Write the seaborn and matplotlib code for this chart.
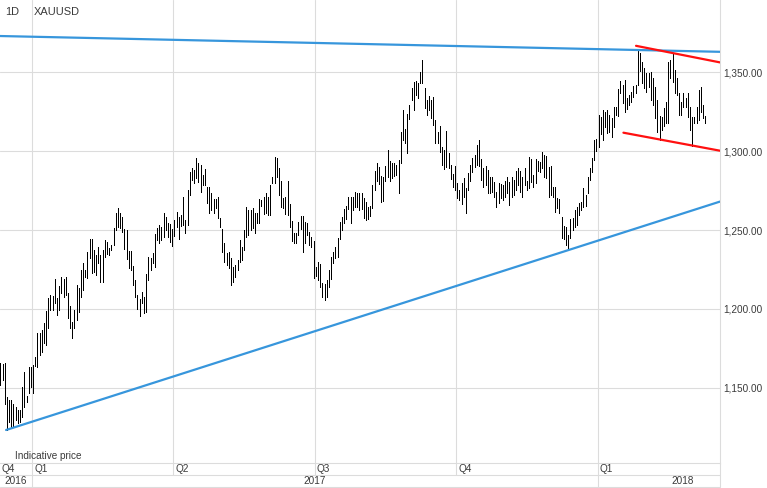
import numpy as np
import pandas as pd
import matplotlib.pyplot as plt
import seaborn as sns

# XAUUSD daily bars (high / low), one per business day starting 12 Dec 2016
start_day = '2016-12-12'
highs = [1165.6, 1165.0, 1165.6, 1144.5, 1142.4, 1142.4, 1139.9, 1137.8, 1136.1, 1136.1,
         1150.4, 1159.9, 1144.9, 1163.5, 1163.5, 1164.6, 1169.8, 1184.6, 1185.0, 1186.7,
         1190.9, 1198.7, 1207.2, 1208.9, 1208.4, 1219.0, 1206.8, 1214.6, 1220.3, 1219.0,
         1220.0, 1209.9, 1201.9, 1192.0, 1199.4, 1215.2, 1213.1, 1224.9, 1228.9, 1224.7,
         1235.9, 1244.3, 1244.3, 1237.3, 1234.2, 1239.5, 1234.2, 1237.3, 1243.7, 1242.6,
         1238.4, 1240.5, 1251.1, 1260.6, 1263.7, 1260.6,
         1258.4, 1250.4, 1250.0, 1236.7, 1236.7, 1227.2, 1218.3, 1208.9, 1206.1, 1211.0,
         1207.8, 1222.0, 1233.1, 1232.1, 1235.2, 1247.5, 1251.0, 1253.2, 1251.7, 1261.0,
         1258.0, 1254.6, 1253.8, 1250.4, 1256.3, 1261.6, 1258.0, 1259.3, 1270.7, 1256.3,
         1275.4, 1286.9, 1289.0, 1288.0, 1295.4, 1292.2, 1291.1, 1284.8, 1288.4, 1277.4,
         1277.4, 1273.2, 1269.4, 1269.4, 1271.1, 1257.4, 1250.4, 1241.6, 1235.2, 1236.3,
         1232.1, 1226.8, 1227.8, 1231.0, 1243.7, 1239.5, 1250.0, 1264.8, 1262.7, 1262.7,
         1263.7, 1260.5, 1260.5, 1269.4, 1269.0, 1271.1, 1273.6, 1271.1, 1278.7, 1283.7,
         1296.0, 1295.3, 1289.0, 1281.0, 1270.0, 1271.1, 1281.0, 1266.5, 1255.9, 1247.9,
         1247.9, 1255.3, 1258.9, 1258.9, 1255.3, 1254.6, 1249.0, 1245.8, 1243.2, 1226.8,
         1229.5, 1228.3, 1216.2, 1215.8, 1218.3, 1224.7, 1232.7, 1236.3, 1239.5, 1244.7,
         1255.3, 1258.4, 1263.1, 1265.2, 1271.1, 1270.7, 1271.1, 1274.3, 1273.6, 1273.2,
         1273.6, 1270.0, 1267.9, 1264.8, 1265.2, 1278.5, 1287.5, 1292.2, 1289.6, 1284.2,
         1283.7, 1290.5, 1300.6, 1293.7, 1292.6, 1292.2, 1291.1, 1294.3, 1312.2, 1325.9,
         1313.7, 1323.4, 1329.1, 1340.1, 1343.9, 1344.3, 1342.8, 1350.2, 1357.6, 1339.7,
         1332.3, 1334.8, 1332.3, 1334.4, 1319.6, 1312.2, 1315.8, 1302.3, 1300.6, 1312.7,
         1298.9, 1291.1, 1285.4, 1290.5, 1279.5, 1275.3, 1279.5, 1282.7, 1276.4, 1285.9,
         1291.1, 1295.3, 1297.5, 1303.8, 1307.0, 1294.7, 1289.0, 1290.5, 1288.0,
         1283.8, 1283.3, 1280.6, 1274.3, 1279.5, 1279.1, 1278.5, 1281.0, 1283.8, 1280.6,
         1283.3, 1281.6, 1287.3, 1289.0, 1287.3, 1283.8, 1289.5, 1281.2, 1296.4, 1294.7,
         1284.8, 1294.7, 1293.7, 1293.3, 1299.6, 1297.5, 1296.8, 1290.1, 1290.5, 1277.4,
         1277.0, 1270.0, 1269.4, 1258.4, 1252.5, 1252.1, 1246.8, 1256.7, 1257.4, 1262.7,
         1264.8, 1266.9, 1267.9, 1276.4, 1272.2, 1283.8, 1289.0, 1295.4, 1307.0,
         1307.4, 1322.8, 1321.3, 1326.0, 1324.9, 1326.0, 1322.8, 1320.7, 1327.6, 1328.0,
         1339.0, 1344.5, 1341.8, 1344.9, 1333.3, 1335.4, 1337.5, 1341.1, 1341.8, 1363.5,
         1362.2, 1356.5, 1352.3, 1349.6, 1349.6, 1350.2, 1346.0, 1340.7, 1332.3, 1322.1,
         1321.7, 1327.0, 1331.0, 1356.5, 1357.6, 1361.8, 1351.0, 1346.0, 1336.5, 1331.0,
         1336.5, 1333.3, 1336.5, 1328.0, 1321.7, 1321.7, 1328.0, 1338.6, 1340.7, 1329.1,
         1322.1]
lows = [1151.9, 1155.0, 1139.9, 1123.4, 1128.7, 1125.5, 1125.9, 1129.7, 1128.1, 1128.7,
        1131.9, 1138.2, 1141.4, 1146.6, 1150.9, 1146.6, 1163.9, 1163.5, 1170.9, 1173.0,
        1178.3, 1177.2, 1188.2, 1199.4, 1199.4, 1203.6, 1196.2, 1199.4, 1209.9, 1207.8,
        1208.9, 1194.1, 1187.8, 1181.4, 1188.2, 1193.0, 1198.3, 1207.8, 1212.0, 1220.5,
        1219.8, 1232.1, 1222.6, 1223.6, 1221.5, 1228.9, 1217.3, 1217.3, 1233.1, 1234.6,
        1234.2, 1237.4, 1240.5, 1250.0, 1252.1, 1251.1,
        1249.0, 1237.8, 1231.6, 1225.7, 1224.7, 1215.0, 1207.8, 1199.8, 1195.6, 1203.6,
        1197.2, 1198.3, 1218.3, 1224.7, 1228.9, 1226.8, 1243.7, 1241.6, 1243.7, 1245.8,
        1250.0, 1245.8, 1242.6, 1239.9, 1246.2, 1251.7, 1244.1, 1252.7, 1253.2, 1247.9,
        1253.2, 1272.2, 1281.7, 1279.5, 1282.7, 1280.6, 1274.3, 1278.5, 1278.5, 1266.9,
        1260.6, 1262.7, 1260.6, 1263.7, 1257.4, 1252.1, 1236.3, 1230.0, 1227.8, 1225.7,
        1215.2, 1217.3, 1220.5, 1224.7, 1230.0, 1231.0, 1237.4, 1245.8, 1246.8, 1250.0,
        1251.0, 1247.9, 1254.2, 1254.2, 1265.2, 1260.1, 1260.5, 1259.5, 1259.5, 1279.5,
        1280.0, 1283.7, 1272.1, 1264.8, 1263.7, 1260.1, 1259.5, 1252.1, 1243.2, 1242.0,
        1241.6, 1246.8, 1250.4, 1236.3, 1241.6, 1246.8, 1240.5, 1239.5, 1219.4, 1220.9,
        1218.3, 1214.1, 1207.8, 1205.7, 1207.8, 1213.7, 1218.8, 1228.9, 1232.1, 1233.1,
        1244.1, 1250.0, 1254.2, 1256.7, 1263.1, 1254.6, 1262.7, 1264.8, 1264.8, 1262.7,
        1263.1, 1257.4, 1256.3, 1256.7, 1258.9, 1263.7, 1275.3, 1281.0, 1278.9, 1267.5,
        1268.4, 1281.2, 1283.7, 1281.0, 1283.1, 1284.2, 1284.8, 1273.2, 1292.2, 1307.0,
        1305.3, 1298.5, 1320.0, 1332.3, 1326.0, 1335.4, 1333.3, 1342.8, 1343.2, 1327.0,
        1322.8, 1325.9, 1320.7, 1316.5, 1304.8, 1305.3, 1299.6, 1291.1, 1288.4, 1290.1,
        1289.0, 1282.0, 1277.4, 1275.3, 1270.0, 1269.0, 1266.5, 1271.1, 1260.5, 1275.3,
        1281.2, 1286.9, 1290.1, 1291.1, 1290.5, 1281.6, 1277.0, 1278.5, 1273.2,
        1273.2, 1274.3, 1271.1, 1264.8, 1266.9, 1270.0, 1269.0, 1270.7, 1273.2, 1265.8,
        1271.1, 1272.2, 1275.3, 1278.5, 1274.3, 1271.1, 1278.5, 1275.3, 1276.4, 1280.6,
        1277.4, 1279.5, 1287.6, 1286.9, 1289.0, 1283.8, 1282.7, 1270.7, 1272.2, 1271.1,
        1261.6, 1263.7, 1261.0, 1244.7, 1244.1, 1240.5, 1238.4, 1244.7, 1250.0, 1252.1,
        1253.2, 1259.5, 1262.7, 1264.8, 1265.2, 1273.2, 1281.6, 1286.9, 1294.3,
        1300.2, 1302.7, 1310.8, 1307.0, 1315.4, 1311.2, 1312.2, 1309.1, 1315.4, 1322.8,
        1322.2, 1336.5, 1330.2, 1324.9, 1326.4, 1329.1, 1331.2, 1334.4, 1336.5, 1341.8,
        1350.8, 1343.2, 1339.7, 1337.5, 1340.3, 1332.3, 1329.1, 1320.7, 1312.2, 1307.0,
        1313.3, 1315.8, 1318.0, 1317.5, 1346.0, 1344.0, 1336.5, 1335.4, 1322.8, 1322.8,
        1328.0, 1328.0, 1321.7, 1313.3, 1303.2, 1317.5, 1317.5, 1319.6, 1324.9, 1320.7,
        1317.5]

# hand drawn trend lines (bar index, price)
support_x = [2.6, 330.8]
support_y = [1123.4, 1268.0]
resist_x = [-0.2, 330.8]
resist_y = [1372.8, 1362.8]
wedge_top_x = [292.2, 330.8]
wedge_top_y = [1366.6, 1356.1]
wedge_bot_x = [286.4, 330.8]
wedge_bot_y = [1311.6, 1300.2]

price_ticks = [1150, 1200, 1250, 1300, 1350]

sns.set_style('white')
plt.rcParams['font.family'] = ['Liberation Sans', 'DejaVu Sans']

grid_c = '#dcdcdc'
text_c = '#3a3a3a'
blue = '#3796dc'
red = '#ff1010'
fs = 7.2

dates = pd.bdate_range(start_day, periods=len(highs))
bars = np.arange(len(highs))
q_starts = [i for i in range(1, len(dates)) if dates[i].quarter != dates[i - 1].quarter]
q_pos = [i - 0.5 for i in q_starts]

W, H = 767, 488
plot_right, plot_bottom, strip_bottom = 720, 462.7, 487
x_lo, x_hi = -0.2, 330.8

fig = plt.figure(figsize=(W / 100, H / 100), dpi=100)
ax = fig.add_axes([0, (H - plot_bottom) / H, plot_right / W, plot_bottom / H])
ax_q = fig.add_axes([0, (H - strip_bottom) / H, plot_right / W, (strip_bottom - plot_bottom) / H])

# ---------- price bars + trend lines ----------
ax.vlines(bars, lows, highs, color='black', lw=0.6, antialiased=False, zorder=2)
sns.lineplot(x=resist_x, y=resist_y, ax=ax, color=blue, lw=1.6, zorder=3)
sns.lineplot(x=support_x, y=support_y, ax=ax, color=blue, lw=1.6, zorder=3)
sns.lineplot(x=wedge_top_x, y=wedge_top_y, ax=ax, color=red, lw=1.6, zorder=4)
sns.lineplot(x=wedge_bot_x, y=wedge_bot_y, ax=ax, color=red, lw=1.6, zorder=4)

ax.set_xlim(x_lo, x_hi)
ax.set_ylim(1102.7, 1395.6)
ax.set_xticks(q_pos)
ax.set_xticklabels([])
ax.set_yticks(price_ticks)
ax.set_yticklabels([f'{p:,.2f}' for p in price_ticks])
ax.yaxis.tick_right()
ax.tick_params(length=0, labelsize=fs, labelcolor=text_c, pad=2)
ax.grid(True, color=grid_c, lw=0.8, zorder=0)
ax.set_axisbelow(True)
for side in ['top', 'left']:
    ax.spines[side].set_visible(False)
for side in ['right', 'bottom']:
    ax.spines[side].set_color(grid_c)
    ax.spines[side].set_linewidth(0.8)
ax.set_xlabel('')
ax.set_ylabel('')

ax.text(5 / plot_right, 1 - 12 / plot_bottom, '1D', transform=ax.transAxes,
        ha='left', va='center', fontsize=fs + 0.7, color=text_c)
ax.text(34 / plot_right, 1 - 12 / plot_bottom, 'XAUUSD', transform=ax.transAxes,
        ha='left', va='center', fontsize=fs + 0.7, color=text_c)
ax.text(15 / plot_right, 7 / plot_bottom, 'Indicative price', transform=ax.transAxes,
        ha='left', va='center', fontsize=fs, color=text_c)

# ---------- quarter / year strip ----------
ax_q.set_xlim(x_lo, x_hi)
ax_q.set_ylim(0, 2)
ax_q.axis('off')
ax_q.axhline(1, color=grid_c, lw=0.8)
ax_q.axhline(0.02, color=grid_c, lw=0.8, clip_on=False)
for i, p in zip(q_starts, q_pos):
    y0 = 0 if dates[i].year != dates[i - 1].year else 1
    ax_q.vlines(p, y0, 2, color=grid_c, lw=0.8)
ax_q.vlines(x_hi - 0.1, 0, 2, color=grid_c, lw=0.8, clip_on=False)

ax_q.text(x_lo + 0.5, 1.5, f'Q{dates[0].quarter}', ha='left', va='center', fontsize=fs, color=text_c)
for i, p in zip(q_starts, q_pos):
    ax_q.text(p + 1.0, 1.5, f'Q{dates[i].quarter}', ha='left', va='center', fontsize=fs, color=text_c)

px_per_bar = plot_right / (x_hi - x_lo)
year_edges = [x_lo] + [p for i, p in zip(q_starts, q_pos) if dates[i].year != dates[i - 1].year]
year_edges.append(x_hi + (W - plot_right) / px_per_bar)
years = [dates[0].year] + [dates[i].year for i in q_starts if dates[i].year != dates[i - 1].year]
for k, yr in enumerate(years):
    ax_q.text((year_edges[k] + year_edges[k + 1]) / 2, 0.5, str(yr), ha='center', va='center',
              fontsize=fs, color=text_c, clip_on=False)

plt.savefig('out.png', dpi=100)
plt.close()
